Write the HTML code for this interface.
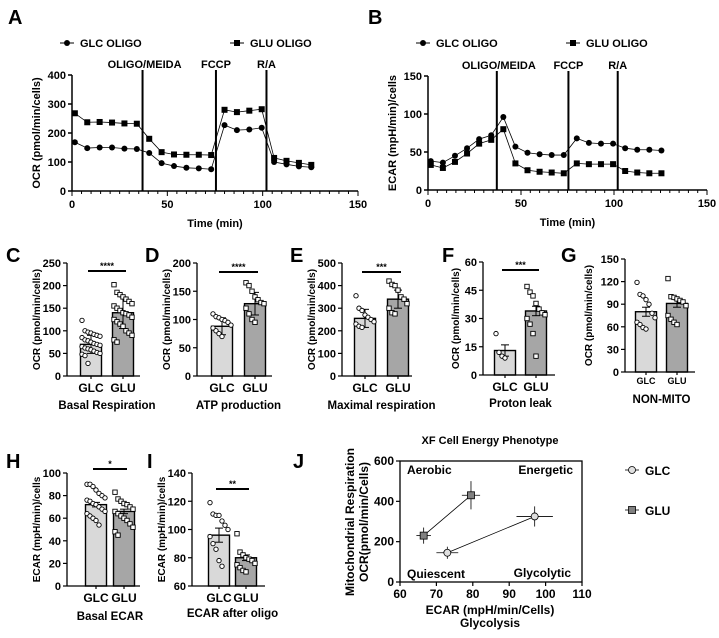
<!DOCTYPE html>
<html><head><meta charset="utf-8"><style>
body{margin:0;background:#fff}
svg{display:block;font-family:"Liberation Sans",sans-serif}
</style></head><body>
<svg id="fig" width="719" height="638" viewBox="0 0 719 638" xmlns="http://www.w3.org/2000/svg"></svg>
<script>
// ---- Panel A/B time course data ----
const times=[1.5,8,14.5,21,27.5,34,40.5,47,53.5,60,66.5,73,80,86.5,93,99.5,106,112.5,119,125.5];
const ocrGLC=[168,148,150,150,146,145,131,96,86,80,78,75,227,210,212,218,100,92,85,82];
const ocrGLU=[268,237,238,236,233,232,180,134,126,125,125,124,280,272,277,282,114,104,97,90];
const ecarGLC=[38,36,45,55,67,72,96,57,49,47,46,46,68,62,61,61,55,53,53,52];
const ecarGLU=[33,29,37,48,61,66,80,35,26,24,23,22,35,34,34,34,25,23,22,22];
const injTimes=[37,75.5,102];
const injLabels=["OLIGO/MEIDA","FCCP","R/A"];
const timeTicks=[0,50,100,150];
const ocrTicks=[0,100,200,300,400];
const ecarTicks=[0,50,100,150];
// ---- Bar panels ----
const barCats=["GLC","GLU"];
const basalMeans=[70,140];
const basalPtsGLC=[123,100,97,95,92,90,88,85,80,78,75,72,70,68,65,62,60,58,55,52,50,48,45,28];
const basalPtsGLU=[202,185,180,175,170,165,160,155,150,145,140,138,135,130,125,120,115,110,100,95,90,80,75];
const atpMeans=[88,128];
const atpPtsGLC=[110,105,103,100,98,95,90,85,80,75,70];
const atpPtsGLU=[165,160,150,140,135,130,128,120,110,100,95];
const maxMeans=[255,340];
const maxPtsGLC=[355,300,290,270,260,250,240,230,220,215];
const maxPtsGLU=[420,405,400,380,350,340,320,300,280,275];
const leakMeans=[13,34];
const leakPtsGLC=[22,12,10,9];
const leakPtsGLU=[47,44,42,38,35,33,32,30,27,22,10];
const nonMeans=[80,91];
const nonPtsGLC=[119,103,101,96,90,78,72,66,63,59,57];
const nonPtsGLU=[124,100,99,97,95,93,88,75,70,66,63];
const basalEcarMeans=[72,66];
const basalEcarPtsGLC=[90,90,88,85,82,80,78,76,75,73,72,70,68,66,64,62,60,58,54];
const basalEcarPtsGLU=[83,77,75,73,72,70,68,66,64,62,60,58,55,52,48,45];
const oligoEcarMeans=[96,80];
const oligoEcarPtsGLC=[119,111,110,110,106,103,100,95,90,86,78,74];
const oligoEcarPtsGLU=[97,84,82,80,79,78,76,75,73,71,70];
// ---- Panel J energy phenotype ----
const phenoGLCx=[73,97], phenoGLCy=[145,325], phenoGLCxe=[3,5], phenoGLCye=[30,50];
const phenoGLUx=[66.5,79.5], phenoGLUy=[230,430], phenoGLUxe=[2,2.5], phenoGLUye=[40,70];
const jxTicks=[60,70,80,90,100,110], jyTicks=[0,200,400,600];

const NS="http://www.w3.org/2000/svg";
const svg=document.getElementById('fig');
function mk(tag,attrs,parent,text){const e=document.createElementNS(NS,tag);for(const k in attrs)e.setAttribute(k,attrs[k]);if(text!==undefined)e.textContent=text;(parent||svg).appendChild(e);return e;}
function line(x1,y1,x2,y2,w,c,p){return mk('line',{x1,y1,x2,y2,stroke:c||'#000','stroke-width':w||1},p);}
function txt(x,y,s,size,anchor,weight,p,rot){const a={x,y,'font-size':size,'text-anchor':anchor||'middle','font-weight':weight||'bold',fill:'#000'};if(rot)a.transform=`rotate(-90 ${x} ${y})`;return mk('text',a,p,s);}

function letter(x,y,s){const t=txt(x,y,s,20,'start','bold');}

function timePanel(name,x0,x150,y0,yTop,yMax,ticks,yTitle,s1,s2,legendY){
  const g=mk('g',{});
  
  
  const X=t=>x0+(x150-x0)*t/150, Y=v=>y0-(y0-yTop)*v/yMax;
  const lg=mk('g',{},g);
  
  
  line(x0-12,legendY,x0+2,legendY,1,'#000',lg);mk('circle',{cx:x0-5,cy:legendY,r:3},lg);txt(x0+8,legendY+4,'GLC OLIGO',11,'start','bold',lg);
  const lx=x0+(name==='ocr-panel'?158:138);
  line(lx,legendY,lx+14,legendY,1,'#000',lg);mk('rect',{x:lx+4,y:legendY-3,width:6,height:6},lg);txt(lx+20,legendY+4,'GLU OLIGO',11,'start','bold',lg);
  line(x0,y0,x0,yTop,1.5,'#000',g);line(x0,y0,x150,y0,1.5,'#000',g);
  ticks.forEach(v=>{line(x0-4,Y(v),x0,Y(v),1.5,'#000',g);txt(x0-6,Y(v)+4,v,11,'end','bold',g);});
  for(let t=0;t<=150;t+=5){line(X(t),y0,X(t),y0+(t%50?3:5),1,'#000',g);}
  timeTicks.forEach(t=>txt(X(t),y0+17,t,11,'middle','bold',g));
  txt((x0+x150)/2,y0+36,'Time (min)',11,'middle','bold',g);
  txt(x0-32,(y0+yTop)/2,yTitle,11,'middle','bold',g,true);
  injTimes.forEach((t,i)=>{line(X(t),yTop-5,X(t),y0,2,'#000',g);txt(X(t)+(i===0?2:0),yTop-7,injLabels[i],11,'middle','bold',g);});
  [[s1,'c'],[s2,'s']].forEach(([s,m])=>{
    const pts=times.map((t,i)=>X(t)+','+Y(s[i])).join(' ');
    mk('polyline',{points:pts,fill:'none',stroke:'#000','stroke-width':0.8},g);
    times.forEach((t,i)=>{const e=m==='c'?mk('circle',{cx:X(t),cy:Y(s[i]),r:3},g):mk('rect',{x:X(t)-3,y:Y(s[i])-3,width:6,height:6},g);
      });
  });
}
letter(8,24,'A');letter(368,24,'B');
timePanel('ocr-panel',72,358,191,75,400,ocrTicks,'OCR (pmol/min/cells)',ocrGLC,ocrGLU,43);
timePanel('ecar-panel',428,707,190,76,150,ecarTicks,'ECAR (mpH/min)/cells',ecarGLC,ecarGLU,43);

function barPanel(name,ax,xEnd,y0,yTop,yMin,yMax,ticks,means,pts1,pts2,c1,c2,title,titleY,sig,sigY,catSize,yTitle,errs,tOff){
  const g=mk('g',{});
  
  
  const Y=v=>y0-(y0-yTop)*(v-yMin)/(yMax-yMin);
  const cx=[c1,c2],fills=['#d9d9d9','#a6a6a6'],w=21;
  [pts1,pts2].forEach((pts,i)=>{
    const b=mk('rect',{x:cx[i]-w/2,y:Y(means[i]),width:w,height:y0-Y(means[i]),fill:fills[i],stroke:'#000','stroke-width':1.4},g);
    
    
    const e=errs[i];
    line(cx[i],Y(means[i]-e),cx[i],Y(means[i]+e),1,'#000',g);line(cx[i]-4,Y(means[i]+e),cx[i]+4,Y(means[i]+e),1,'#000',g);line(cx[i]-4,Y(means[i]-e),cx[i]+4,Y(means[i]-e),1,'#000',g);
    pts.forEach((v,j)=>{const dx=((j%7)-3)*3;
      if(i===0)mk('circle',{cx:cx[i]+dx,cy:Y(v),r:2.2,fill:'#fff',stroke:'#000','stroke-width':0.9},g);
      else mk('rect',{x:cx[i]+dx-2.2,y:Y(v)-2.2,width:4.4,height:4.4,fill:'#fff',stroke:'#000','stroke-width':0.9},g);});
    line(cx[i],y0,cx[i],y0+3,1.2,'#000',g);
    txt(cx[i],y0+(catSize<11?12:16),barCats[i],catSize,'middle','bold',g);
  });
  line(ax,y0,ax,yTop,1.3,'#000',g);line(ax,y0,xEnd,y0,1.3,'#000',g);
  ticks.forEach(v=>{line(ax-4,Y(v),ax,Y(v),1.2,'#000',g);txt(ax-6,Y(v)+4,v,11,'end','bold',g);});
  txt(ax-(tOff||27),(y0+yTop)/2,yTitle,10,'middle','bold',g,true);
  if(sig){line(c1-3,sigY,c2+3,sigY,2,'#000',g);txt((c1+c2)/2,sigY-2,sig,9,'middle','bold',g);}
  txt((c1+c2)/2,titleY,title,11.5,'middle','bold',g);
}
letter(6,262,'C');letter(145,262,'D');letter(290,262,'E');letter(442,262,'F');letter(561,262,'G');
barPanel('basal-respiration',67,140,376,263,0,250,[0,50,100,150,200,250],basalMeans,basalPtsGLC,basalPtsGLU,91,123,'Basal Respiration',409,'****',271,12,'OCR (pmol/min/cells)',[20,35]);
barPanel('atp-production',197,272,376,263,0,200,[0,50,100,150,200],atpMeans,atpPtsGLC,atpPtsGLU,222,255,'ATP production',409,'****',272,12,'OCR (pmol/min/cells)',[15,20]);
barPanel('maximal-respiration',342,412,376,263,0,500,[0,100,200,300,400,500],maxMeans,maxPtsGLC,maxPtsGLU,365,398,'Maximal respiration',409,'***',272,12,'OCR (pmol/min/cells)',[40,40]);
barPanel('proton-leak',483,555,375,262,0,60,[0,15,30,45,60],leakMeans,leakPtsGLC,leakPtsGLU,505,536,'Proton leak',407,'***',270,12,'OCR (pmol/min/cells)',[3,2.5],24);
barPanel('non-mito',625,695,372,259,0,150,[0,30,60,90,120,150],nonMeans,nonPtsGLC,nonPtsGLU,646,677,'NON-MITO',403,null,0,9,'OCR (pmol/min/cells)',[6,5],33);
letter(6,468,'H');letter(147,468,'I');letter(293,468,'J');
barPanel('basal-ecar',67,140,586,473,0,100,[0,20,40,60,80,100],basalEcarMeans,basalEcarPtsGLC,basalEcarPtsGLU,96,124,'Basal ECAR',620,'*',469,12,'ECAR (mpH/min)/cells',[2,2]);
barPanel('ecar-after-oligo',192,265,586,473,60,140,[60,80,100,120,140],oligoEcarMeans,oligoEcarPtsGLC,oligoEcarPtsGLU,219,246,'ECAR after oligo',617,'**',489,12,'ECAR (mpH/min)/cells',[5,2]);

// Panel J
(function(){
  const g=mk('g',{});
  
  
  const x0=400,x1=582,y0=582,y1=461;
  const X=v=>x0+(x1-x0)*(v-60)/50, Y=v=>y0-(y0-y1)*v/600;
  mk('rect',{x:x0,y:y1,width:x1-x0,height:y0-y1,fill:'none',stroke:'#000','stroke-width':1.3},g);
  jxTicks.forEach(v=>{line(X(v),y0,X(v),y0+4,1.2,'#000',g);txt(X(v),y0+16,v,12,'middle','bold',g);});
  jyTicks.forEach(v=>{line(x0-4,Y(v),x0,Y(v),1.2,'#000',g);txt(x0-6,Y(v)+4,v,12,'end','bold',g);});
  txt(490,444,'XF Cell Energy Phenotype',11,'middle','bold',g);
  txt(490,614,'ECAR (mpH/min/Cells)',12,'middle','bold',g);
  txt(490,627,'Glycolysis',12,'middle','bold',g);
  txt(354,522,'Mitochondrial Respiration',12,'middle','bold',g,true);
  txt(368,522,'OCR(pmol/min/Cells)',12,'middle','bold',g,true);
  txt(407,474,'Aerobic',12,'start','bold',g);txt(573,474,'Energetic',12,'end','bold',g);
  txt(407,578,'Quiescent',12,'start','bold',g);txt(571,577,'Glycolytic',12,'end','bold',g);
  [[phenoGLCx,phenoGLCy,phenoGLCxe,phenoGLCye,'c','#e0e0e0'],[phenoGLUx,phenoGLUy,phenoGLUxe,phenoGLUye,'s','#808080']].forEach(([xs,ys,xe,ye,m,f])=>{
    line(X(xs[0]),Y(ys[0]),X(xs[1]),Y(ys[1]),0.8,'#000',g);
    xs.forEach((v,i)=>{
      line(X(v-xe[i]),Y(ys[i]),X(v+xe[i]),Y(ys[i]),0.8,'#000',g);
      line(X(v),Y(ys[i]-ye[i]),X(v),Y(ys[i]+ye[i]),0.8,'#000',g);
      const e=m==='c'?mk('circle',{cx:X(v),cy:Y(ys[i]),r:3.5,fill:f,stroke:'#000','stroke-width':0.8},g):mk('rect',{x:X(v)-3.5,y:Y(ys[i])-3.5,width:7,height:7,fill:f,stroke:'#000','stroke-width':0.8},g);
      
      
    });
  });
  const lg=mk('g',{},g);
  
  
  line(625,470,639,470,0.8,'#000',lg);mk('circle',{cx:632,cy:470,r:3.5,fill:'#e0e0e0',stroke:'#000','stroke-width':0.8},lg);txt(645,475,'GLC',12,'start','bold',lg);
  line(625,510,639,510,0.8,'#000',lg);mk('rect',{x:628.5,y:506.5,width:7,height:7,fill:'#808080',stroke:'#000','stroke-width':0.8},lg);txt(645,515,'GLU',12,'start','bold',lg);
})();
</script>
</body></html>
